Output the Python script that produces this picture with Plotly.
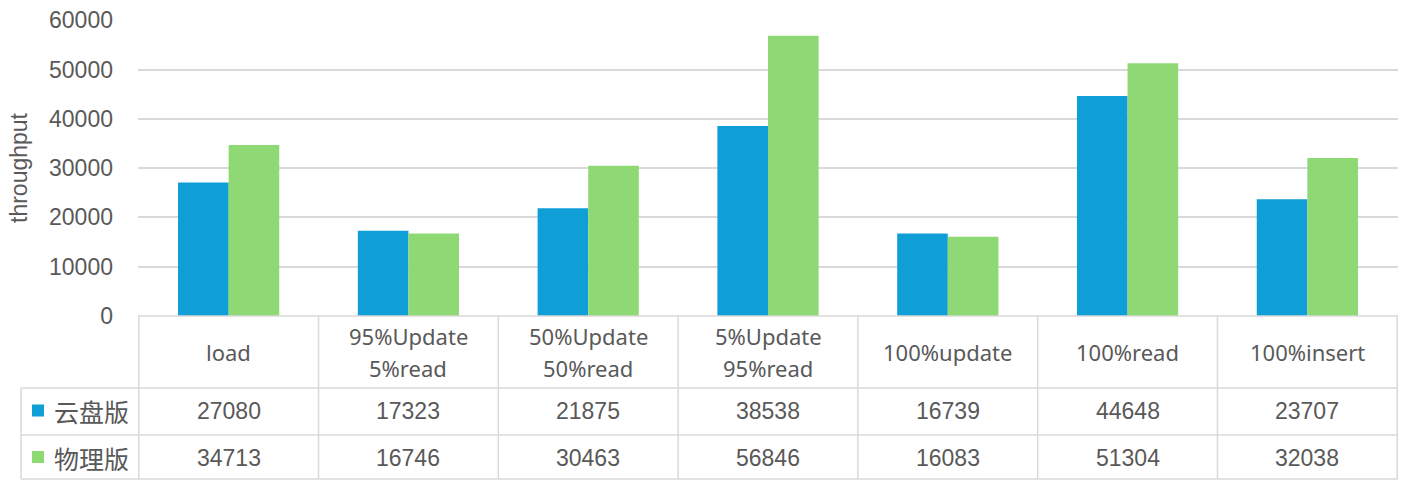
import plotly.graph_objects as go

categories = ["load", "95%Update<br>5%read", "50%Update<br>50%read", "5%Update<br>95%read",
              "100%update", "100%read", "100%insert"]
series_names = ["云盘版", "物理版"]
cloud = [27080, 17323, 21875, 38538, 16739, 44648, 23707]
physical = [34713, 16746, 30463, 56846, 16083, 51304, 32038]
series_values = [cloud, physical]
colors = ["#0F9ED5", "#8ED973"]
y_ticks = [0, 10000, 20000, 30000, 40000, 50000, 60000]

W, H = 1407, 481
def py(p):  # pixel y -> paper y
    return (H - p) / H
def px(p):
    return p / W

x0_pix, x1_pix = 138, 1398
y_top_pix, y_zero_pix = 20.3, 316
row_lines = [316, 388, 435, 479]
row_centers = [411, 458]
text_color = "#595959"
grid_color = "#D9D9D9"

fig = go.Figure()
for name, vals, c in zip(series_names, series_values, colors):
    fig.add_trace(go.Bar(x=categories, y=vals, name=name, marker_color=c,
                         marker_line_width=0, showlegend=False))

fig.update_layout(
    template="none",
    width=W, height=H,
    margin=dict(l=0, r=0, t=0, b=0, pad=0, autoexpand=False),
    paper_bgcolor="white", plot_bgcolor="white",
    barmode="group", bargap=0.437, bargroupgap=0,
    xaxis=dict(domain=[px(x0_pix), px(x1_pix)], showticklabels=False, showgrid=False,
               zeroline=False, showline=False, ticks="", automargin=False),
    yaxis=dict(domain=[py(y_zero_pix), py(y_top_pix)], range=[0, 60000],
               tickvals=y_ticks, ticktext=[str(v) for v in y_ticks],
               tickfont=dict(family="Liberation Sans, Arial", size=23, color=text_color),
               showgrid=True, gridcolor=grid_color, gridwidth=1.5, zeroline=False, showline=False,
               ticks="", ticklabelstandoff=24, automargin=False),
)

shapes = []
line = dict(color=grid_color, width=1.5)
# horizontal table lines
shapes.append(dict(type="line", xref="paper", yref="paper", x0=px(x0_pix), x1=px(x1_pix),
                   y0=py(row_lines[0]), y1=py(row_lines[0]), line=line))
for r in row_lines[1:]:
    shapes.append(dict(type="line", xref="paper", yref="paper", x0=px(21), x1=px(x1_pix),
                       y0=py(r), y1=py(r), line=line))
# vertical lines at category boundaries
for i in range(len(categories) + 1):
    shapes.append(dict(type="line", xref="x", yref="paper", x0=i - 0.5, x1=i - 0.5,
                       y0=py(row_lines[0]), y1=py(row_lines[-1]), line=line))
shapes.append(dict(type="line", xref="paper", yref="paper", x0=px(21), x1=px(21),
                   y0=py(row_lines[1]), y1=py(row_lines[-1]), line=line))
# legend keys
for rc, c in zip([410.5, 457], colors):
    shapes.append(dict(type="rect", xref="paper", yref="paper", x0=px(32), x1=px(44),
                       y0=py(rc + 6), y1=py(rc - 6), fillcolor=c, line=dict(width=0)))

annotations = []
# category labels
for i, cat in enumerate(categories):
    lines = cat.split("<br>")
    n = len(lines)
    for j, ln in enumerate(lines):
        yc = 352 + (j - (n - 1) / 2) * 32
        annotations.append(dict(x=i, y=py(yc), xref="x", yref="paper", text=ln, showarrow=False,
                                xanchor="center", yanchor="middle",
                                font=dict(family="Noto Sans", size=22, color=text_color)))
# values
for rc, vals, name in zip(row_centers, series_values, series_names):
    for i, v in enumerate(vals):
        annotations.append(dict(x=i, y=py(rc), xref="x", yref="paper", text=str(v), showarrow=False,
                                xanchor="center", yanchor="middle",
                                font=dict(family="Liberation Sans, Arial", size=23, color=text_color)))
    annotations.append(dict(x=px(52), y=py(rc), xref="paper", yref="paper", text=name, showarrow=False,
                            xanchor="left", yanchor="middle",
                            font=dict(family="Noto Sans CJK SC", size=25, color=text_color)))
# y-axis title
annotations.append(dict(x=px(19), y=py(168), xref="paper", yref="paper", text="throughput",
                        showarrow=False, textangle=-90, xanchor="center", yanchor="middle",
                        font=dict(family="Liberation Sans, Arial", size=23, color=text_color)))

fig.update_layout(shapes=shapes, annotations=annotations)
fig.write_html("out.html")
